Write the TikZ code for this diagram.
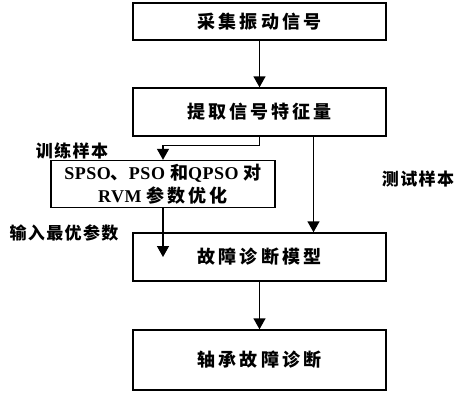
\documentclass[tikz,border=0pt]{standalone}
\usepackage{fontspec}
\setmainfont{Liberation Serif}[LetterSpace=3]
\newfontfamily\cjk{Noto Sans CJK SC}[LetterSpace=17]
\newfontfamily\cjklab{Noto Sans CJK SC}[LetterSpace=8]
\usetikzlibrary{arrows.meta,calc}
\begin{document}
\begin{tikzpicture}[x=1pt,y=-1pt,
  box/.style={draw, line width=1.4pt, minimum width=253pt, minimum height=48pt, inner sep=0pt, font=\fontsize{18}{20}\selectfont\cjk\bfseries},
  arr/.style={line width=1.4pt, -{Triangle[width=12pt,length=11pt]}},
  lab/.style={font=\fontsize{17}{18}\selectfont\cjklab\bfseries, inner sep=0pt}]
\useasboundingbox (0,0) rectangle (458,392);
\node[box, minimum height=37pt] (b1) at (259.5,21.5) {采集振动信号};
\node[box] (b2) at (259.5,112) {提取信号特征量};
\node[box, minimum width=224pt, minimum height=47pt, align=center, font=\fontsize{18}{23}\selectfont\bfseries] (b3) at (163,184)
  {SPSO{\cjk 、}PSO {\cjk 和}QPSO {\cjk 对}\\RVM {\cjk 参数优化}};
\node[box] (b4) at (259.5,257) {故障诊断模型};
\node[box, minimum height=60pt] (b5) at (259.5,360) {轴承故障诊断};
\node[lab] (l1) at (72,151) {训练样本};
\node[lab] (l2) at (418,179) {测试样本};
\node[lab] (l3) at (64,233) {输入最优参数};
\draw[arr] (b1.south) -- (b2.north);
\draw[arr] (b2.south) -- ++(0,9) -| (b3.north);
\draw[arr] ($(b2.south)+(54,0)$) -- ($(b4.north)+(54,0)$);
\draw[arr] (b3.south) -- (b3.south |- b4.center);
\draw[arr] (b4.south) -- (b5.north);
\end{tikzpicture}
\end{document}
